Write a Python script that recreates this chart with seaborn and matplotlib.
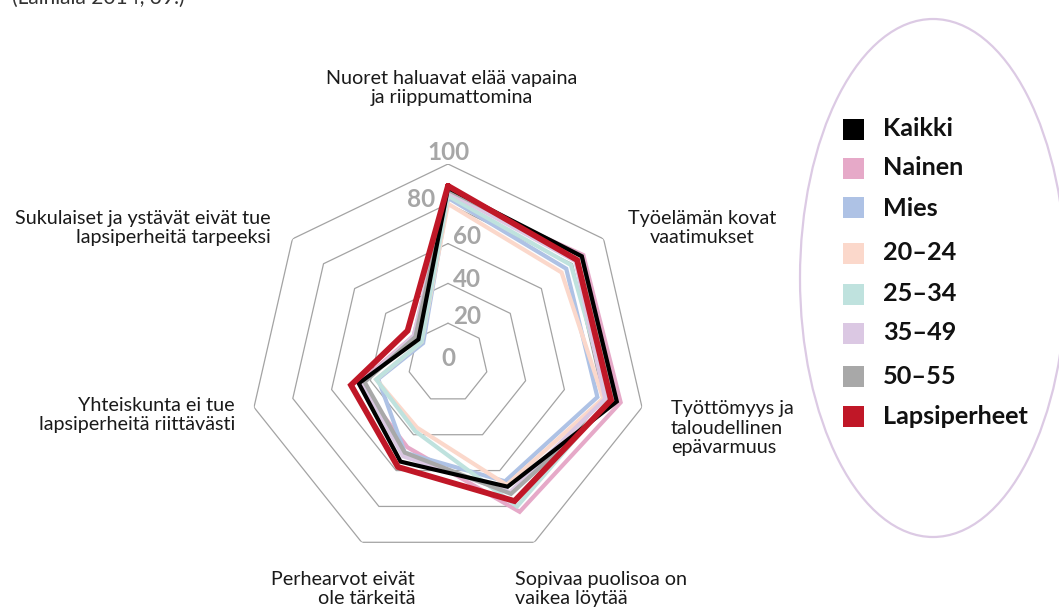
import numpy as np
import pandas as pd
import matplotlib
matplotlib.use('Agg')
import matplotlib.pyplot as plt
import matplotlib.transforms as mtransforms
from matplotlib.patches import Ellipse, Rectangle
import seaborn as sns

# categories, clockwise from the top
categories = [
    'Nuoret haluavat elää vapaina\nja riippumattomina',
    'Työelämän kovat\nvaatimukset',
    'Työttömyys ja\ntaloudellinen\nepävarmuus',
    'Sopivaa puolisoa on\nvaikea löytää',
    'Perhearvot eivät\nole tärkeitä',
    'Yhteiskunta ei tue\nlapsiperheitä riittävästi',
    'Sukulaiset ja ystävät eivät tue\nlapsiperheitä tarpeeksi',
]

groups = ['Kaikki', 'Nainen', 'Mies', '20–24', '25–34', '35–49', '50–55', 'Lapsiperheet']
kaikki = [88, 86, 87, 69, 55, 46, 19]
nainen = [85, 87, 89, 83, 47, 46, 22]
mies = [83, 76, 77, 66, 50, 36, 16]
ika_20_24 = [80, 73, 80, 68, 36, 37, 17]
ika_25_34 = [84, 79, 83, 80, 38, 37, 17]
ika_35_49 = [86, 82, 81, 72, 52, 44, 22]
ika_50_55 = [87, 86, 85, 73, 50, 43, 21]
lapsiperheet = [89, 83, 84, 77, 58, 50, 26]
values = [kaikki, nainen, mies, ika_20_24, ika_25_34, ika_35_49, ika_50_55, lapsiperheet]

grid_levels = [20, 40, 60, 80, 100]
tick_labels = ['0', '20', '40', '60', '80', '100']

colors = {
    'Kaikki': '#000000',
    'Nainen': '#e6a9c8',
    'Mies': '#aec2e5',
    '20–24': '#fbd8cb',
    '25–34': '#bfe2de',
    '35–49': '#dbc8e3',
    '50–55': '#a8a8a8',
    'Lapsiperheet': '#c01727',
}
draw_order = ['Nainen', 'Mies', '20–24', '25–34', '35–49', '50–55', 'Kaikki', 'Lapsiperheet']

sns.set_style('white')
plt.rcParams['font.family'] = ['Lato', 'DejaVu Sans']

W, H = 1059, 607
fig = plt.figure(figsize=(W / 100, H / 100), dpi=100)

# polar axes: centre (448, 363) px, radius 199 px
cx, cy, R = 448, 363, 199
ax = fig.add_axes([(cx - R) / W, (H - cy - R) / H, 2 * R / W, 2 * R / H], projection='polar')
ax.set_theta_offset(np.pi / 2)
ax.set_theta_direction(-1)

n = len(categories)
angles = np.linspace(0, 2 * np.pi, n, endpoint=False)
closed = np.append(angles, 2 * np.pi)

rows = []
for g, vals in zip(groups, values):
    for t, v in zip(closed, vals + vals[:1]):
        rows.append({'theta': t, 'value': v, 'group': g})
df = pd.DataFrame(rows)

# heptagon grid
for r in grid_levels:
    ax.plot(closed, [r] * len(closed), color='#a3a3a3', lw=0.9, zorder=0)

sizes = {g: 3.0 for g in groups}
sizes['Lapsiperheet'] = 4.2
sns.lineplot(data=df, x='theta', y='value', hue='group', hue_order=draw_order,
             size='group', sizes=sizes, size_order=draw_order,
             palette=colors, sort=False, estimator=None, legend=False, ax=ax)
for line in ax.lines[len(grid_levels):]:
    line.set_solid_joinstyle('miter')

ax.set_ylim(0, 100)
ax.set_xticks([])
ax.set_yticks([])
ax.grid(False)
ax.spines['polar'].set_visible(False)
ax.set_xlabel('')
ax.set_ylabel('')
ax.patch.set_alpha(0)

# radial tick labels
tick_offsets = [(0, 5), (19, 7), (19, 4), (19, 7), (-27, 4), (0, 11)]
for lab, (dx, dy) in zip(tick_labels, tick_offsets):
    tr = mtransforms.offset_copy(ax.transData, fig=fig, x=dx, y=dy, units='dots')
    ax.text(0, int(lab), lab, transform=tr, ha='center', va='center',
            fontsize=17.5, fontweight='bold', color='#a6a6a6', zorder=5)

# category labels (pixel positions)
label_pos = [
    (452, 88, 'center'),
    (702, 228, 'center'),
    (671, 428, 'left'),
    (515, 589, 'left'),
    (415, 589, 'right'),
    (235, 415, 'right'),
    (271, 228, 'right'),
]
for text, (px, py, ha) in zip(categories, label_pos):
    fig.text(px / W, 1 - py / H, text, ha=ha, va='center', fontsize=14.2,
             color='#1a1a1a', linespacing=1.15, multialignment=ha)

# source note, cut off at the top
fig.text(12 / W, 1 - 4 / H, '(Lainiala 2014, 39.)', ha='left', va='baseline',
         fontsize=15, color='#333333')

# legend inside an ellipse
fig.add_artist(Ellipse((933 / W, 1 - 278 / H), 266 / W, 518 / H,
                       transform=fig.transFigure, facecolor='none',
                       edgecolor='#dccae4', lw=1.6))
legend_y = [129, 168, 208, 253, 294, 333, 376, 416]
for g, y in zip(groups, legend_y):
    fig.add_artist(Rectangle((843 / W, 1 - (y + 10.5) / H), 21 / W, 21 / H,
                             transform=fig.transFigure, facecolor=colors[g],
                             edgecolor='none'))
    fig.text(883 / W, 1 - y / H, g, ha='left', va='center', fontsize=18.2,
             fontweight='bold', color='#111111')

fig.savefig('out.png', dpi=100)
